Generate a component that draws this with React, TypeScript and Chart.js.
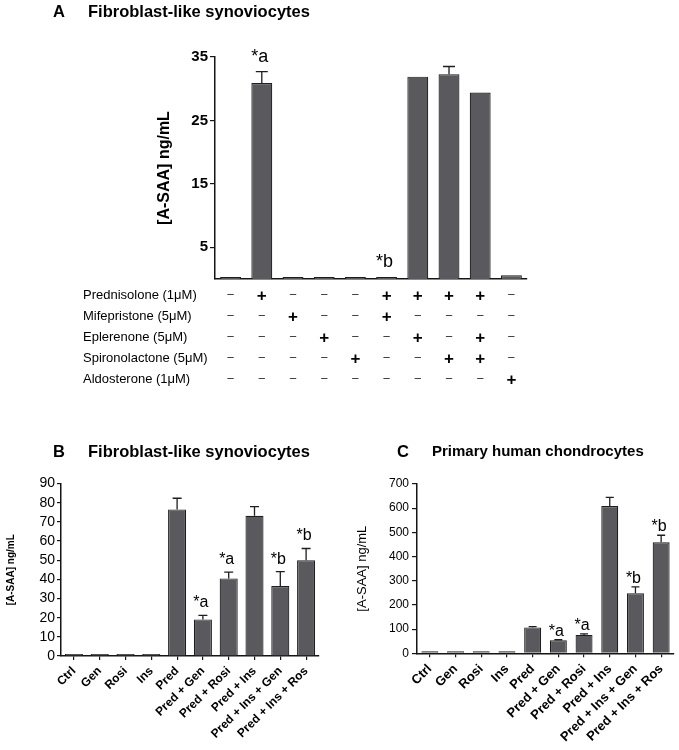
import React, { useEffect, useRef } from 'react';
import { Chart, registerables } from 'chart.js';

Chart.register(...registerables);

const FONT = '"Liberation Sans", Arial, Helvetica, sans-serif';
const BAR_FILL = '#5a5a5e';
const BAR_EDGE = '#1e1e1e';
const AXIS = '#151515';

// ---------- Panel A data ----------
const A_LETTER = 'A';
const A_TITLE = 'Fibroblast-like synoviocytes';
const A_CATEGORIES = ['Ctrl', 'Pred', 'Mife', 'Eple', 'Spiro', 'Pred+Mife', 'Pred+Eple', 'Pred+Spiro', 'Pred+Eple+Spiro', 'Aldo'];
const A_VALUES = [0.3, 30.9, 0.3, 0.3, 0.3, 0.3, 31.9, 32.3, 29.4, 0.6];
const A_ERRORS = [0, 1.8, 0, 0, 0, 0, 0, 1.2, 0, 0];
const A_ANNOT = ['', '*a', '', '', '', '*b', '', '', '', ''];
const A_TICKS = [5, 15, 25, 35];
const A_Y_TITLE = '[A-SAA] ng/mL';
const A_ROW_LABELS = ['Prednisolone (1μM)', 'Mifepristone (5μM)', 'Eplerenone (5μM)', 'Spironolactone (5μM)', 'Aldosterone (1μM)'];
const A_ROW_SIGNS = ['−+−−−++++−', '−−+−−+−−−−', '−−−+−−+−+−', '−−−−+−−++−', '−−−−−−−−−+'];

// ---------- Panel B data ----------
const B_LETTER = 'B';
const B_TITLE = 'Fibroblast-like synoviocytes';
const B_CATEGORIES = ['Ctrl', 'Gen', 'Rosi', 'Ins', 'Pred', 'Pred + Gen', 'Pred + Rosi', 'Pred + Ins', 'Pred + Ins + Gen', 'Pred + Ins + Ros'];
const B_VALUES = [0.4, 0.4, 0.4, 0.4, 76.5, 19.1, 40.5, 73.2, 36.5, 49.9];
const B_ERRORS = [0, 0, 0, 0, 5.8, 2.1, 3.3, 4.7, 7.5, 6.2];
const B_ANNOT = ['', '', '', '', '', '*a', '*a', '', '*b', '*b'];
const B_Y_MAX = 90;
const B_Y_STEP = 10;
const B_Y_TITLE = '[A-SAA] ng/mL';

// ---------- Panel C data ----------
const C_LETTER = 'C';
const C_TITLE = 'Primary human chondrocytes';
const C_CATEGORIES = ['Ctrl', 'Gen', 'Rosi', 'Ins', 'Pred', 'Pred + Gen', 'Pred + Rosi', 'Pred + Ins', 'Pred + Ins + Gen', 'Pred + Ins + Ros'];
const C_VALUES = [3, 3, 3, 3, 107, 54, 76, 609, 248, 459];
const C_ERRORS = [0, 0, 0, 0, 3, 2, 4, 36, 27, 29];
const C_ANNOT = ['', '', '', '', '', '*a', '*a', '', '*b', '*b'];
const C_Y_MAX = 700;
const C_Y_STEP = 100;
const C_Y_TITLE = '[A-SAA] ng/mL';

type Spec = {
  w: number; h: number;
  area: { left: number; right: number; top: number; bottom: number };
  categories: string[]; values: number[]; errors: number[]; annot: string[];
  yMax: number; yStep?: number; yTicks?: number[];
  yFont: any; yTickLen: number; yPad: number;
  xLabels: boolean; xFont?: any; xTickLen: number;
  barPct: number; cap: number;
  annotFont: string; annotGap: number;
  letter: string; title: string; letterFont: string; titleFont: string; letterX: number; titleX: number; titleY: number;
  yTitle: string; yTitleFont: string; yTitleX: number;
  table?: { labels: string[]; signs: string[]; x: number; y0: number; step: number };
};

function makeChart(canvas: HTMLCanvasElement, p: Spec) {
  const errorPlugin = {
    id: 'errbars',
    afterDatasetsDraw(chart: any) {
      const ctx = chart.ctx;
      const ys = chart.scales.y;
      const meta = chart.getDatasetMeta(0);
      ctx.save();
      ctx.strokeStyle = BAR_EDGE;
      ctx.lineWidth = 1.3;
      meta.data.forEach((el: any, i: number) => {
        const e = p.errors[i];
        if (!e) return;
        const yTop = ys.getPixelForValue(p.values[i] + e);
        ctx.beginPath();
        ctx.moveTo(el.x, el.y);
        ctx.lineTo(el.x, yTop);
        ctx.moveTo(el.x - p.cap / 2, yTop);
        ctx.lineTo(el.x + p.cap / 2, yTop);
        ctx.stroke();
      });
      ctx.restore();
    },
  };
  const decorPlugin = {
    id: 'decor',
    afterDraw(chart: any) {
      const ctx = chart.ctx;
      const ys = chart.scales.y;
      const xs = chart.scales.x;
      const meta = chart.getDatasetMeta(0);
      ctx.save();
      // annotations
      ctx.fillStyle = '#000';
      ctx.font = p.annotFont;
      ctx.textAlign = 'center';
      ctx.textBaseline = 'alphabetic';
      meta.data.forEach((el: any, i: number) => {
        const t = p.annot[i];
        if (!t) return;
        const yTop = ys.getPixelForValue(p.values[i] + p.errors[i]);
        ctx.fillText(t, el.x - 2, yTop - p.annotGap);
      });
      // title
      ctx.textAlign = 'left';
      ctx.textBaseline = 'middle';
      ctx.font = p.letterFont;
      ctx.fillText(p.letter, p.letterX, p.titleY);
      ctx.font = p.titleFont;
      ctx.fillText(p.title, p.titleX, p.titleY);
      // y title
      ctx.save();
      ctx.translate(p.yTitleX, (chart.chartArea.top + chart.chartArea.bottom) / 2);
      ctx.rotate(-Math.PI / 2);
      ctx.font = p.yTitleFont;
      ctx.textAlign = 'center';
      ctx.textBaseline = 'middle';
      ctx.fillText(p.yTitle, 0, 0);
      ctx.restore();
      // table
      if (p.table) {
        const tb = p.table;
        tb.labels.forEach((lab, r) => {
          const y = tb.y0 + r * tb.step;
          ctx.font = `13px ${FONT}`;
          ctx.fillStyle = '#000';
          ctx.textAlign = 'left';
          ctx.textBaseline = 'middle';
          ctx.fillText(lab, tb.x, y);
          ctx.textAlign = 'center';
          Array.from(tb.signs[r]).forEach((s, i) => {
            const x = xs.getPixelForValue(i);
            if (s === '+') {
              ctx.font = `bold 17px ${FONT}`;
              ctx.fillStyle = '#000';
              ctx.fillText('+', x, y + 1);
            } else {
              ctx.font = `13px ${FONT}`;
              ctx.fillStyle = '#333';
              ctx.fillText('−', x, y);
            }
          });
        });
      }
      ctx.restore();
    },
  };

  return new Chart(canvas, {
    type: 'bar',
    data: {
      labels: p.categories,
      datasets: [{
        data: p.values,
        backgroundColor: BAR_FILL,
        borderColor: BAR_EDGE,
        borderWidth: 1.2,
        barPercentage: p.barPct,
        categoryPercentage: 1,
        minBarLength: 2,
      }],
    },
    options: {
      responsive: false,
      animation: false,
      devicePixelRatio: 1,
      layout: { padding: { left: 0, top: p.area.top, right: p.w - p.area.right, bottom: 0 } },
      plugins: { legend: { display: false }, tooltip: { enabled: false }, title: { display: false } },
      scales: {
        x: {
          grid: {
            display: true, drawOnChartArea: false, drawTicks: p.xTickLen > 0,
            tickLength: p.xTickLen, offset: false, color: AXIS, lineWidth: 1.2,
          },
          border: { display: true, color: AXIS, width: 1.5 },
          ticks: {
            display: p.xLabels, minRotation: 45, maxRotation: 45, autoSkip: false,
            padding: 4, color: '#000', font: p.xFont,
          },
          afterFit: (s: any) => { s.height = p.h - p.area.bottom; },
        },
        y: {
          min: 0,
          max: p.yMax,
          ticks: { stepSize: p.yStep, autoSkip: false, color: '#000', font: p.yFont, padding: p.yPad },
          afterBuildTicks: p.yTicks ? (s: any) => { s.ticks = p.yTicks!.map((v) => ({ value: v })); } : undefined,
          grid: { display: true, drawOnChartArea: false, drawTicks: true, tickLength: p.yTickLen, color: AXIS, lineWidth: 1.2 },
          border: { display: true, color: AXIS, width: 1.5 },
          afterFit: (s: any) => { s.width = p.area.left; },
        },
      },
    } as any,
    plugins: [errorPlugin, decorPlugin],
  });
}

function Panel({ spec, left, top }: { spec: Spec; left: number; top: number }) {
  const ref = useRef<HTMLCanvasElement>(null);
  useEffect(() => {
    const ch = makeChart(ref.current!, spec);
    return () => ch.destroy();
  }, []);
  return (
    <canvas
      ref={ref}
      width={spec.w}
      height={spec.h}
      style={{ position: 'absolute', left, top, width: spec.w, height: spec.h }}
    />
  );
}

const specA: Spec = {
  w: 679, h: 400,
  area: { left: 215, right: 527, top: 57, bottom: 279 },
  categories: A_CATEGORIES, values: A_VALUES, errors: A_ERRORS, annot: A_ANNOT,
  yMax: 35, yTicks: A_TICKS,
  yFont: { family: FONT, size: 15, weight: 'bold' }, yTickLen: 5, yPad: 2,
  xLabels: false, xTickLen: 0,
  barPct: 0.67, cap: 12,
  annotFont: `18px ${FONT}`, annotGap: 10,
  letter: A_LETTER, title: A_TITLE, letterFont: `bold 16.5px ${FONT}`, titleFont: `bold 16.5px ${FONT}`, letterX: 53, titleX: 88, titleY: 12,
  yTitle: A_Y_TITLE, yTitleFont: `bold 16px ${FONT}`, yTitleX: 165,
  table: { labels: A_ROW_LABELS, signs: A_ROW_SIGNS, x: 83, y0: 295, step: 21 },
};

const specB: Spec = {
  w: 340, h: 310,
  area: { left: 61, right: 319, top: 43.5, bottom: 216 },
  categories: B_CATEGORIES, values: B_VALUES, errors: B_ERRORS, annot: B_ANNOT,
  yMax: B_Y_MAX, yStep: B_Y_STEP,
  yFont: { family: FONT, size: 14 }, yTickLen: 4, yPad: 2,
  xLabels: true, xFont: { family: FONT, size: 12, weight: 'bold' }, xTickLen: 4,
  barPct: 0.7, cap: 9,
  annotFont: `16px ${FONT}`, annotGap: 8,
  letter: B_LETTER, title: B_TITLE, letterFont: `bold 16.5px ${FONT}`, titleFont: `bold 16.5px ${FONT}`, letterX: 53, titleX: 88, titleY: 12,
  yTitle: B_Y_TITLE, yTitleFont: `bold 10px ${FONT}`, yTitleX: 11,
};

const specC: Spec = {
  w: 339, h: 310,
  area: { left: 77, right: 334, top: 44, bottom: 213.3 },
  categories: C_CATEGORIES, values: C_VALUES, errors: C_ERRORS, annot: C_ANNOT,
  yMax: C_Y_MAX, yStep: C_Y_STEP,
  yFont: { family: FONT, size: 12 }, yTickLen: 5, yPad: 3,
  xLabels: true, xFont: { family: FONT, size: 13, weight: 'bold' }, xTickLen: 4,
  barPct: 0.66, cap: 8,
  annotFont: `16px ${FONT}`, annotGap: 4,
  letter: C_LETTER, title: C_TITLE, letterFont: `bold 16.5px ${FONT}`, titleFont: `bold 15px ${FONT}`, letterX: 57, titleX: 92, titleY: 12,
  yTitle: C_Y_TITLE, yTitleFont: `13px ${FONT}`, yTitleX: 22,
};

export default function App() {
  return (
    <div style={{ position: 'absolute', left: 0, top: 0, width: 679, height: 750, background: '#fff' }}>
      <Panel spec={specA} left={0} top={0} />
      <Panel spec={specB} left={0} top={440} />
      <Panel spec={specC} left={340} top={440} />
    </div>
  );
}
